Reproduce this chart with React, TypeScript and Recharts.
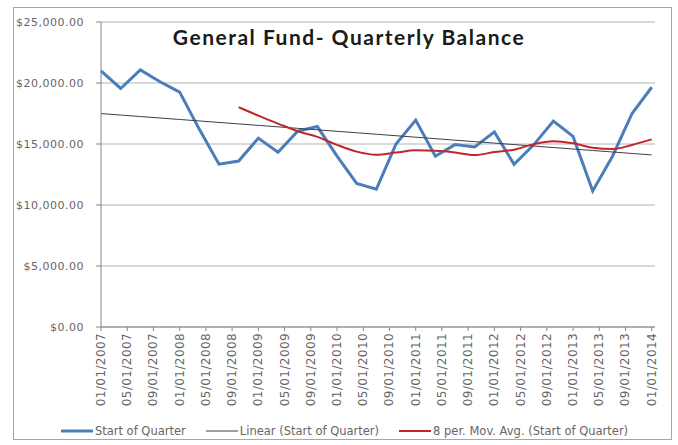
import { CartesianGrid, Legend, Line, LineChart, XAxis, YAxis } from 'recharts'

// start-of-quarter dates and balances
const quarterDates = [
  '01/01/2007', '04/01/2007', '07/01/2007', '10/01/2007',
  '01/01/2008', '04/01/2008', '07/01/2008', '10/01/2008',
  '01/01/2009', '04/01/2009', '07/01/2009', '10/01/2009',
  '01/01/2010', '04/01/2010', '07/01/2010', '10/01/2010',
  '01/01/2011', '04/01/2011', '07/01/2011', '10/01/2011',
  '01/01/2012', '04/01/2012', '07/01/2012', '10/01/2012',
  '01/01/2013', '04/01/2013', '07/01/2013', '10/01/2013',
  '01/01/2014',
]
const balances = [
  21000, 19550, 21070, 20100,
  19250, 16200, 13350, 13600,
  15480, 14330, 16050, 16430,
  14000, 11770, 11300, 15000,
  16960, 14000, 14950, 14760,
  15990, 13330, 14930, 16880,
  15620, 11150, 13980, 17500,
  19650,
]

// x-axis labels, every 4 months
const tickLabels = [
  '01/01/2007', '05/01/2007', '09/01/2007', '01/01/2008', '05/01/2008', '09/01/2008',
  '01/01/2009', '05/01/2009', '09/01/2009', '01/01/2010', '05/01/2010', '09/01/2010',
  '01/01/2011', '05/01/2011', '09/01/2011', '01/01/2012', '05/01/2012', '09/01/2012',
  '01/01/2013', '05/01/2013', '09/01/2013', '01/01/2014',
]
const yTicks = [0, 5000, 10000, 15000, 20000, 25000]

const AVG_PERIOD = 8

const monthIndex = (d: string) => {
  const [mm, , yyyy] = d.split('/').map(Number)
  return (yyyy - 2007) * 12 + (mm - 1)
}

// least-squares trendline, like Excel's "Linear" trendline
const xs = quarterDates.map(monthIndex)
const n = xs.length
const meanX = xs.reduce((a, b) => a + b, 0) / n
const meanY = balances.reduce((a, b) => a + b, 0) / n
let sxy = 0
let sxx = 0
xs.forEach((x, i) => {
  sxy += (x - meanX) * (balances[i] - meanY)
  sxx += (x - meanX) * (x - meanX)
})
const slope = sxy / sxx
const intercept = meanY - slope * meanX

const data = xs.map((m, i) => ({
  m,
  balance: balances[i],
  trend: intercept + slope * m,
  avg:
    i >= AVG_PERIOD - 1
      ? balances.slice(i - AVG_PERIOD + 1, i + 1).reduce((a, b) => a + b, 0) / AVG_PERIOD
      : undefined,
}))

const tickValues = tickLabels.map(monthIndex)
const labelFor = (m: number) => tickLabels[tickValues.indexOf(m)] ?? ''

const axisFont = 'DejaVu Sans, sans-serif'
const money = (v: number) =>
  '$' + v.toLocaleString('en-US', { minimumFractionDigits: 2, maximumFractionDigits: 2 })

const XTick = (props: any) => {
  const { x, y, payload } = props
  return (
    <text
      x={x}
      y={y}
      transform={`rotate(-90 ${x} ${y})`}
      textAnchor="end"
      dominantBaseline="central"
      fontSize={12}
      letterSpacing={0.4}
      fontFamily={axisFont}
      fill="#666"
    >
      {labelFor(payload.value)}
    </text>
  )
}

const legendItems = [
  { name: 'Start of Quarter', color: '#4A7EBB', width: 3 },
  { name: 'Linear (Start of Quarter)', color: '#404040', width: 1 },
  { name: '8 per. Mov. Avg. (Start of Quarter)', color: '#C0262D', width: 2 },
]

const ChartLegend = () => (
  <div style={{ display: 'flex', justifyContent: 'center', alignItems: 'center', height: 20, paddingLeft: 34 }}>
    {legendItems.map((it) => (
      <div key={it.name} style={{ display: 'flex', alignItems: 'center', margin: '0 10px' }}>
        <svg width={32} height={10}>
          <line x1={0} x2={32} y1={5} y2={5} stroke={it.color} strokeWidth={it.width} />
        </svg>
        <span style={{ fontFamily: axisFont, fontSize: 11.5, color: '#666', marginLeft: 2 }}>{it.name}</span>
      </div>
    ))}
  </div>
)

export default function App() {
  return (
    <div style={{ position: 'absolute', left: 0, top: 0, width: 678, height: 445, background: '#fff' }}>
      <div
        style={{
          position: 'absolute',
          left: 13,
          top: 7,
          width: 659,
          height: 433,
          border: '1px solid #a6a6a6',
          boxSizing: 'border-box',
        }}
      />
      <LineChart width={678} height={445} data={data} margin={{ top: 22, right: 23, left: 0, bottom: 4 }}>
        <CartesianGrid vertical={false} stroke="#b3b3b3" />
        <XAxis
          dataKey="m"
          type="number"
          domain={[0, 84.5]}
          ticks={tickValues}
          interval={0}
          height={94}
          tickSize={4}
          tickMargin={2}
          stroke="#868686"
          tick={<XTick />}
        />
        <YAxis
          width={101}
          domain={[0, 25000]}
          ticks={yTicks}
          tickFormatter={money}
          tickSize={5}
          tickMargin={12}
          stroke="#868686"
          tick={{ fontSize: 11, fontFamily: axisFont, fill: '#666', letterSpacing: 0.5 }}
        />
        <Legend verticalAlign="bottom" content={<ChartLegend />} />
        <Line
          dataKey="balance"
          name="Start of Quarter"
          stroke="#4A7EBB"
          strokeWidth={3}
          dot={false}
          type="linear"
          isAnimationActive={false}
        />
        <Line
          dataKey="trend"
          name="Linear (Start of Quarter)"
          stroke="#404040"
          strokeWidth={1}
          dot={false}
          type="linear"
          isAnimationActive={false}
        />
        <Line
          dataKey="avg"
          name="8 per. Mov. Avg. (Start of Quarter)"
          stroke="#C0262D"
          strokeWidth={2}
          dot={false}
          type="monotone"
          connectNulls
          isAnimationActive={false}
        />
      </LineChart>
      <div
        style={{
          position: 'absolute',
          left: 0,
          width: 698,
          top: 24,
          textAlign: 'center',
          fontFamily: 'Lato, sans-serif',
          fontWeight: 700,
          fontSize: 21,
          letterSpacing: 1.5,
          color: '#1a1a1a',
        }}
      >
        General Fund- Quarterly Balance
      </div>
    </div>
  )
}
